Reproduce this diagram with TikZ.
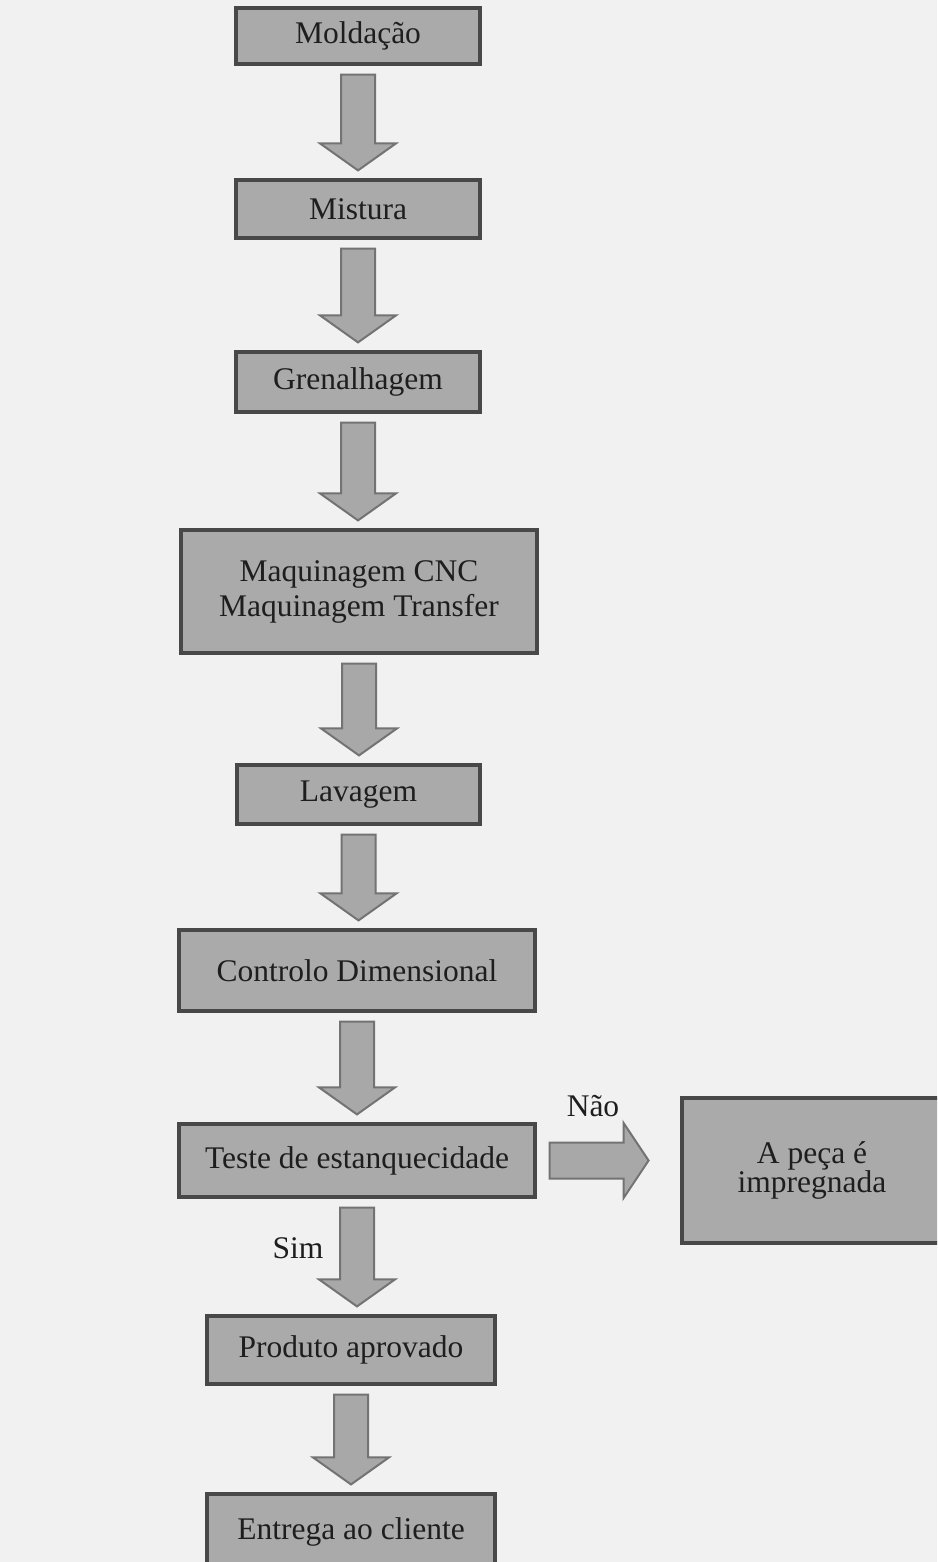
\documentclass[tikz,border=0pt]{standalone}
\usepackage{fontspec}
\setmainfont{Liberation Serif}
\usetikzlibrary{calc}
\definecolor{bg}{RGB}{241,241,241}
\definecolor{boxfill}{RGB}{170,170,170}
\definecolor{boxline}{RGB}{72,72,72}
\definecolor{arrfill}{RGB}{168,168,168}
\definecolor{arrline}{RGB}{115,115,115}
\definecolor{ink}{RGB}{30,30,30}
\tikzset{
  stepbox/.style={draw=boxline, fill=boxfill, line width=3.2pt, inner sep=0pt,
    text=ink, font=\fontsize{31.5}{35}\selectfont, align=center},
  lbl/.style={text=ink, font=\fontsize{31.5}{35}\selectfont, inner sep=0pt},
  blockarrow/.style={draw=arrline, fill=arrfill, line width=2pt, line join=miter}
}
\newcommand\blockdown[2]{%
  \draw[blockarrow] let \p1=(#1.south), \p2=(#2.north) in
    (\x1-17pt,\y1-9pt) -- (\x1+17pt,\y1-9pt) -- (\x1+17pt,\y2+35pt)
    -- (\x1+38pt,\y2+35pt) -- (\x1,\y2+8pt) -- (\x1-38pt,\y2+35pt)
    -- (\x1-17pt,\y2+35pt) -- cycle;}
\begin{document}
\begin{tikzpicture}[x=1pt,y=-1pt]
\useasboundingbox (0,0) rectangle (937,1562);
\clip (0,0) rectangle (937,1562);
\fill[bg] (0,0) rectangle (937,1562);

\node[stepbox, minimum width=244, minimum height=56] (mold) at (358,36) {Moldação};
\node[stepbox, minimum width=244, minimum height=58] (mist) at (358,209) {Mistura};
\node[stepbox, minimum width=244, minimum height=60] (gren) at (358,382) {Grenalhagem};
\node[stepbox, minimum width=356, minimum height=123] (maq) at (359,591.5) {Maquinagem CNC\\Maquinagem Transfer};
\node[stepbox, minimum width=243, minimum height=59] (lav) at (358.5,794.5) {Lavagem};
\node[stepbox, minimum width=356, minimum height=81] (ctrl) at (357,970.5) {Controlo Dimensional};
\node[stepbox, minimum width=356, minimum height=73] (teste) at (357,1160.5) {Teste de estanquecidade};
\node[stepbox, minimum width=270, minimum height=145, font=\fontsize{31.5}{29}\selectfont] (imp) at (817,1170.5) {\hspace*{-10pt}A peça é\\\hspace*{-10pt}impregnada};
\node[stepbox, minimum width=288, minimum height=68] (prod) at (351,1350) {Produto aprovado};
\node[stepbox, minimum width=288, minimum height=76] (ent) at (351,1532) {\raisebox{4pt}{Entrega ao cliente}};

\blockdown{mold}{mist}
\blockdown{mist}{gren}
\blockdown{gren}{maq}
\blockdown{maq}{lav}
\blockdown{lav}{ctrl}
\blockdown{ctrl}{teste}
\blockdown{teste}{prod}
\blockdown{prod}{ent}

\draw[blockarrow] let \p1=(teste.east), \p2=(imp.west) in
  (\x1+13pt,\y1-18pt) -- (\x1+87pt,\y1-18pt) -- (\x1+87pt,\y1-37.5pt)
  -- (\x1+112pt,\y1) -- (\x1+87pt,\y1+37.5pt) -- (\x1+87pt,\y1+18pt)
  -- (\x1+13pt,\y1+18pt) -- cycle;

\node[lbl] (nao) at (593,1106) {Não};
\node[lbl] (sim) at (298,1248) {Sim};
\end{tikzpicture}
\end{document}
